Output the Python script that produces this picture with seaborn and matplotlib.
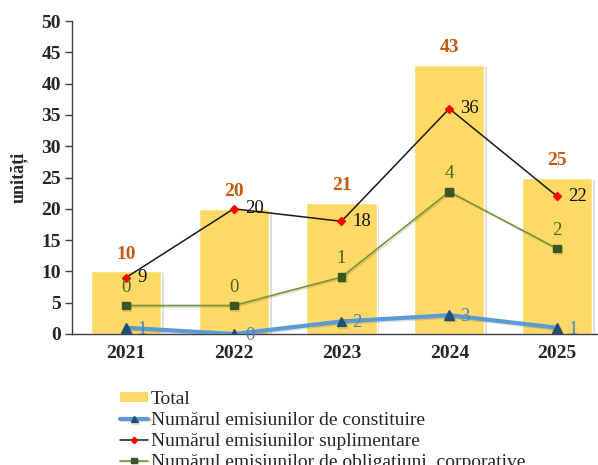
import matplotlib
matplotlib.use("Agg")
import matplotlib.pyplot as plt
import matplotlib.patheffects as pe
from matplotlib.patches import Patch
import seaborn as sns
import numpy as np
import pandas as pd

years = ["2021", "2022", "2023", "2024", "2025"]
total = [10, 20, 21, 43, 25]
constituire = [1, 0, 2, 3, 1]
suplimentare = [9, 20, 18, 36, 22]
obligatiuni = [0, 0, 1, 4, 2]

lbl_total = "Total"
lbl_const = "Numărul emisiunilor de constituire"
lbl_supl = "Numărul emisiunilor suplimentare"
lbl_obl = "Numărul emisiunilor de obligațiuni  corporative"

sns.set_style("white")
plt.rcParams['font.family'] = ['Liberation Serif', 'DejaVu Serif']

fig = plt.figure(figsize=(5.98, 4.65), dpi=100)
ax = fig.add_axes([72/598, 1-334/465, 1-72/598, 313/465])

df = pd.DataFrame({"year": years, "total": total})
shadow = [pe.SimplePatchShadow(offset=(2, -1.5), alpha=0.18), pe.Normal()]
sns.barplot(data=df, x="year", y="total", color="#FFD966", width=0.65,
            saturation=1, ax=ax, zorder=2)
for p in ax.patches:
    p.set_path_effects(shadow)

x = np.arange(len(years))
lshadow = [pe.SimpleLineShadow(offset=(1, -1), alpha=0.12), pe.Normal()]

ax.plot(x, constituire, color="#5B9BD5", lw=3, marker="^", ms=7,
        mfc="#1F4E79", mec="#1F4E79", label=lbl_const, zorder=4,
        path_effects=lshadow)
ax.plot(x, suplimentare, color="#1a1a1a", lw=1.1, marker="D", ms=4.5,
        mfc="#FF0000", mec="#FF0000", label=lbl_supl, zorder=5)

ax2 = ax.twinx()
ax2.set_position(ax.get_position())
ax2.plot(x, obligatiuni, color="#77933C", lw=1.2, marker="s", ms=5.5,
         mfc="#385723", mec="#385723", label=lbl_obl, zorder=4,
         path_effects=lshadow)
ax2.set_ylim(-1, 10)
ax2.axis("off")

ax.set_xlim(-0.5, (598-125)/108)
ax.set_ylim(0, 50)
ax.set_yticks(range(0, 51, 5))
ax.set_xlabel("")
ax.set_ylabel("unități", fontsize=13, fontweight="bold", labelpad=10)
for s in ["top", "right"]:
    ax.spines[s].set_visible(False)
for s in ["left", "bottom"]:
    ax.spines[s].set_color("#404040")
    ax.spines[s].set_linewidth(1)
ax.tick_params(axis="y", direction="out", length=5, width=1, color="#404040",
               labelsize=14, pad=3)
ax.tick_params(axis="x", length=0, labelsize=14, pad=8)
for t in ax.get_xticklabels() + ax.get_yticklabels():
    t.set_fontweight("bold")

for xi, v in zip(x, total):
    ax.annotate(str(v), (xi, v), xytext=(0, 6), textcoords="offset points",
                ha="center", va="bottom", color="#C55A11", fontsize=14,
                fontweight="bold")
for xi, v in zip(x, suplimentare):
    ax.annotate(str(v), (xi, v), xytext=(8, 0), textcoords="offset points",
                ha="left", va="center", color="#111111", fontsize=13.5, zorder=6)
for xi, v in zip(x, constituire):
    ax.annotate(str(v), (xi, v), xytext=(8, -1), textcoords="offset points",
                ha="left", va="center", color="#4F81BD", fontsize=13.5, zorder=6)
for xi, v in zip(x, obligatiuni):
    ax2.annotate(str(v), (xi, v), xytext=(0, 7), textcoords="offset points",
                 ha="center", va="bottom", color="#4F6228", fontsize=13.5)

h1, l1 = ax.get_legend_handles_labels()
h2, l2 = ax2.get_legend_handles_labels()
total_handle = Patch(facecolor="#FFD966", edgecolor="none")
leg = fig.legend([total_handle] + h1 + h2, [lbl_total] + l1 + l2,
                 loc="upper left",
                 bbox_to_anchor=(120/598, 1-391/465), frameon=False,
                 fontsize=14, handlelength=1.45, handleheight=0.4,
                 handletextpad=0.15, labelspacing=0.2, borderaxespad=0,
                 borderpad=0, markerscale=0.7)

fig.savefig("out.png", dpi=100)
